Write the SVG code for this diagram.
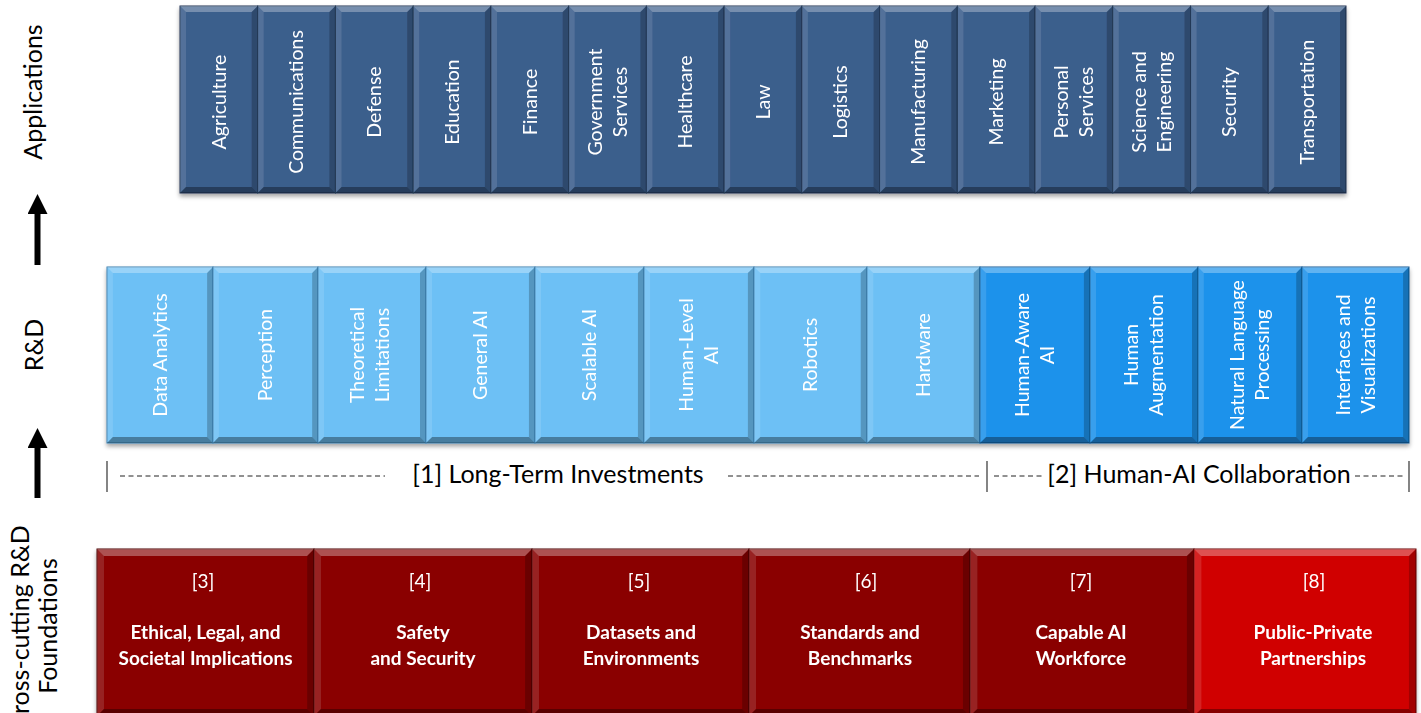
<svg xmlns="http://www.w3.org/2000/svg" width="1421" height="713" viewBox="0 0 1421 713">
<defs>
<style>
.bt{font-family:Lato,"Liberation Sans",sans-serif;font-size:19.5px;fill:#fff;text-anchor:middle}
.rb{font-family:Lato,"Liberation Sans",sans-serif;font-size:19px;fill:#fff;text-anchor:middle;font-weight:bold}
.rn{font-family:Lato,"Liberation Sans",sans-serif;font-size:19px;fill:#fff;text-anchor:middle}
.lab{font-family:Lato,"Liberation Sans",sans-serif;font-size:25px;fill:#000;text-anchor:middle}
.brk{font-family:Lato,"Liberation Sans",sans-serif;font-size:25px;fill:#000;text-anchor:middle}
.app{fill:#3B5E8C;stroke:#1f3553;stroke-width:1}
.rdl{fill:#6DC0F5;stroke:#3a7fae;stroke-width:1}
.rdd{fill:#1E92EB;stroke:#0f5a96;stroke-width:1}
.red{fill:#8A0606;stroke:#4a0000;stroke-width:1}
.redb{fill:#D00606;stroke:#6a0000;stroke-width:1}
.dash{stroke:#222;stroke-width:1;stroke-dasharray:5 3.5;fill:none}
.tick{stroke:#333;stroke-width:1.2;fill:none}
.hi{fill:#fff;fill-opacity:.3}
.hl{fill:#fff;fill-opacity:.12}
.sr{fill:#000;fill-opacity:.22}
.sb{fill:#000;fill-opacity:.35}
</style>
<filter id="sh" x="-5%" y="-10%" width="110%" height="125%">
<feDropShadow dx="0" dy="3" stdDeviation="2" flood-color="#000" flood-opacity=".35"/>
</filter>
<symbol id="bev-app" viewBox="0 0 77.7 187" preserveAspectRatio="none">
<polygon class="hi" points="0,0 77.7,0 71.7,6 6,6"/>
<polygon class="hl" points="0,0 6,6 6,181 0,187"/>
<polygon class="sr" points="77.7,0 77.7,187 71.7,181 71.7,6"/>
<polygon class="sb" points="0,187 77.7,187 71.7,181 6,181"/>
</symbol>
<symbol id="bev-rd" viewBox="0 0 108 176" preserveAspectRatio="none">
<polygon class="hi" points="0,0 108,0 102,6 6,6"/>
<polygon class="hl" points="0,0 6,6 6,170 0,176"/>
<polygon class="sr" points="108,0 108,176 102,170 102,6"/>
<polygon class="sb" points="0,176 108,176 102,170 6,170"/>
</symbol>
<symbol id="bev-red" viewBox="0 0 220 167" preserveAspectRatio="none">
<polygon class="hi" points="0,0 220,0 213,7 7,7"/>
<polygon class="hl" points="0,0 7,7 7,160 0,167"/>
<polygon class="sr" points="220,0 220,167 213,160 213,7"/>
<polygon class="sb" points="0,167 220,167 213,160 7,160"/>
</symbol>
<marker id="ah" viewBox="0 0 20 20" refX="10" refY="10" markerWidth="20" markerHeight="20" markerUnits="userSpaceOnUse" orient="auto">
<polygon points="0,0 20,10 0,20" fill="#000"/>
</marker>
</defs>
<rect width="1421" height="713" fill="#fff"/>

<!-- Left labels -->
<g id="label-applications"><text class="lab" transform="translate(42,92) rotate(-90)">Applications</text></g>
<g id="label-rd"><text class="lab" transform="translate(43,345) rotate(-90)">R&amp;D</text></g>
<g id="label-foundations">
<text class="lab" transform="translate(29,628) rotate(-90)">Cross-cutting R&amp;D</text>
<text class="lab" transform="translate(57,626) rotate(-90)">Foundations</text>
</g>

<!-- Applications row -->
<g id="applications" filter="url(#sh)">
<g id="app-agriculture"><rect class="app" x="180" y="6" width="77.7" height="187"/><use href="#bev-app" x="180" y="6" width="77.7" height="187"/><text class="bt" transform="translate(219,102) rotate(-90)" y="6.6">Agriculture</text></g>
<g id="app-communications"><rect class="app" x="257.7" y="6" width="77.7" height="187"/><use href="#bev-app" x="257.7" y="6" width="77.7" height="187"/><text class="bt" transform="translate(296.6,102) rotate(-90)" y="6.6">Communications</text></g>
<g id="app-defense"><rect class="app" x="335.5" y="6" width="77.7" height="187"/><use href="#bev-app" x="335.5" y="6" width="77.7" height="187"/><text class="bt" transform="translate(374.4,102) rotate(-90)" y="6.6">Defense</text></g>
<g id="app-education"><rect class="app" x="413.2" y="6" width="77.7" height="187"/><use href="#bev-app" x="413.2" y="6" width="77.7" height="187"/><text class="bt" transform="translate(452.1,102) rotate(-90)" y="6.6">Education</text></g>
<g id="app-finance"><rect class="app" x="491" y="6" width="77.7" height="187"/><use href="#bev-app" x="491" y="6" width="77.7" height="187"/><text class="bt" transform="translate(529.9,102) rotate(-90)" y="6.6">Finance</text></g>
<g id="app-government"><rect class="app" x="568.7" y="6" width="77.7" height="187"/><use href="#bev-app" x="568.7" y="6" width="77.7" height="187"/><text class="bt" transform="translate(607.6,102) rotate(-90)"><tspan x="0" y="-5.9">Government</tspan><tspan x="0" y="19.1">Services</tspan></text></g>
<g id="app-healthcare"><rect class="app" x="646.4" y="6" width="77.7" height="187"/><use href="#bev-app" x="646.4" y="6" width="77.7" height="187"/><text class="bt" transform="translate(685.3,102) rotate(-90)" y="6.6">Healthcare</text></g>
<g id="app-law"><rect class="app" x="724.2" y="6" width="77.7" height="187"/><use href="#bev-app" x="724.2" y="6" width="77.7" height="187"/><text class="bt" transform="translate(763.1,102) rotate(-90)" y="6.6">Law</text></g>
<g id="app-logistics"><rect class="app" x="801.9" y="6" width="77.7" height="187"/><use href="#bev-app" x="801.9" y="6" width="77.7" height="187"/><text class="bt" transform="translate(840.8,102) rotate(-90)" y="6.6">Logistics</text></g>
<g id="app-manufacturing"><rect class="app" x="879.6" y="6" width="77.7" height="187"/><use href="#bev-app" x="879.6" y="6" width="77.7" height="187"/><text class="bt" transform="translate(918.5,102) rotate(-90)" y="6.6">Manufacturing</text></g>
<g id="app-marketing"><rect class="app" x="957.4" y="6" width="77.7" height="187"/><use href="#bev-app" x="957.4" y="6" width="77.7" height="187"/><text class="bt" transform="translate(996.3,102) rotate(-90)" y="6.6">Marketing</text></g>
<g id="app-personal"><rect class="app" x="1035.1" y="6" width="77.7" height="187"/><use href="#bev-app" x="1035.1" y="6" width="77.7" height="187"/><text class="bt" transform="translate(1074,102) rotate(-90)"><tspan x="0" y="-5.9">Personal</tspan><tspan x="0" y="19.1">Services</tspan></text></g>
<g id="app-science"><rect class="app" x="1112.8" y="6" width="77.7" height="187"/><use href="#bev-app" x="1112.8" y="6" width="77.7" height="187"/><text class="bt" transform="translate(1151.7,102) rotate(-90)"><tspan x="0" y="-5.9">Science and</tspan><tspan x="0" y="19.1">Engineering</tspan></text></g>
<g id="app-security"><rect class="app" x="1190.6" y="6" width="77.7" height="187"/><use href="#bev-app" x="1190.6" y="6" width="77.7" height="187"/><text class="bt" transform="translate(1229.5,102) rotate(-90)" y="6.6">Security</text></g>
<g id="app-transportation"><rect class="app" x="1268.3" y="6" width="77.7" height="187"/><use href="#bev-app" x="1268.3" y="6" width="77.7" height="187"/><text class="bt" transform="translate(1307.2,102) rotate(-90)" y="6.6">Transportation</text></g>
</g>

<!-- R&D row -->
<g id="rd" filter="url(#sh)">
<g id="rd-data-analytics"><rect class="rdl" x="107" y="267" width="106" height="176"/><use href="#bev-rd" x="107" y="267" width="106" height="176"/><text class="bt" transform="translate(160,355) rotate(-90)" y="6.6">Data Analytics</text></g>
<g id="rd-perception"><rect class="rdl" x="213" y="267" width="105" height="176"/><use href="#bev-rd" x="213" y="267" width="105" height="176"/><text class="bt" transform="translate(265.5,355) rotate(-90)" y="6.6">Perception</text></g>
<g id="rd-theoretical"><rect class="rdl" x="318" y="267" width="108" height="176"/><use href="#bev-rd" x="318" y="267" width="108" height="176"/><text class="bt" transform="translate(370,355) rotate(-90)"><tspan x="0" y="-5.9">Theoretical</tspan><tspan x="0" y="19.1">Limitations</tspan></text></g>
<g id="rd-general-ai"><rect class="rdl" x="426" y="267" width="109" height="176"/><use href="#bev-rd" x="426" y="267" width="109" height="176"/><text class="bt" transform="translate(480.5,355) rotate(-90)" y="6.6">General AI</text></g>
<g id="rd-scalable-ai"><rect class="rdl" x="535" y="267" width="109" height="176"/><use href="#bev-rd" x="535" y="267" width="109" height="176"/><text class="bt" transform="translate(589.5,355) rotate(-90)" y="6.6">Scalable AI</text></g>
<g id="rd-human-level"><rect class="rdl" x="644" y="267" width="110" height="176"/><use href="#bev-rd" x="644" y="267" width="110" height="176"/><text class="bt" transform="translate(699,355) rotate(-90)"><tspan x="0" y="-5.9">Human-Level</tspan><tspan x="0" y="19.1">AI</tspan></text></g>
<g id="rd-robotics"><rect class="rdl" x="754" y="267" width="113" height="176"/><use href="#bev-rd" x="754" y="267" width="113" height="176"/><text class="bt" transform="translate(810.5,355) rotate(-90)" y="6.6">Robotics</text></g>
<g id="rd-hardware"><rect class="rdl" x="867" y="267" width="113" height="176"/><use href="#bev-rd" x="867" y="267" width="113" height="176"/><text class="bt" transform="translate(923.5,355) rotate(-90)" y="6.6">Hardware</text></g>
<g id="rd-human-aware"><rect class="rdd" x="980" y="267" width="110" height="176"/><use href="#bev-rd" x="980" y="267" width="110" height="176"/><text class="bt" transform="translate(1035,355) rotate(-90)"><tspan x="0" y="-5.9">Human-Aware</tspan><tspan x="0" y="19.1">AI</tspan></text></g>
<g id="rd-human-augmentation"><rect class="rdd" x="1090" y="267" width="108" height="176"/><use href="#bev-rd" x="1090" y="267" width="108" height="176"/><text class="bt" transform="translate(1144,355) rotate(-90)"><tspan x="0" y="-5.9">Human</tspan><tspan x="0" y="19.1">Augmentation</tspan></text></g>
<g id="rd-nlp"><rect class="rdd" x="1198" y="267" width="104" height="176"/><use href="#bev-rd" x="1198" y="267" width="104" height="176"/><text class="bt" transform="translate(1250,355) rotate(-90)"><tspan x="0" y="-5.9">Natural Language</tspan><tspan x="0" y="19.1">Processing</tspan></text></g>
<g id="rd-interfaces"><rect class="rdd" x="1302" y="267" width="107" height="176"/><use href="#bev-rd" x="1302" y="267" width="107" height="176"/><text class="bt" transform="translate(1355.5,355) rotate(-90)"><tspan x="0" y="-5.9">Interfaces and</tspan><tspan x="0" y="19.1">Visualizations</tspan></text></g>
</g>

<!-- Strategy brackets -->
<g id="strategy-brackets">
<line class="tick" x1="107" y1="461" x2="107" y2="492"/>
<line class="dash" x1="120" y1="476" x2="385" y2="476"/>
<text class="brk" x="558" y="483">[1] Long-Term Investments</text>
<line class="dash" x1="728" y1="476" x2="979" y2="476"/>
<line class="tick" x1="987" y1="461" x2="987" y2="492"/>
<line class="dash" x1="994" y1="476" x2="1045" y2="476"/>
<text class="brk" x="1199" y="483">[2] Human-AI Collaboration</text>
<line class="dash" x1="1355" y1="476" x2="1403" y2="476"/>
<line class="tick" x1="1409" y1="461" x2="1409" y2="492"/>
</g>

<!-- Foundations row -->
<g id="foundations" filter="url(#sh)">
<g id="f3"><rect class="red" x="97" y="549" width="217" height="167"/><use href="#bev-red" x="97" y="549" width="217" height="167"/><text class="rn" x="203" y="588">[3]</text><text class="rb" x="205.5" y="639">Ethical, Legal, and</text><text class="rb" x="205.5" y="665">Societal Implications</text></g>
<g id="f4"><rect class="red" x="314" y="549" width="218" height="167"/><use href="#bev-red" x="314" y="549" width="218" height="167"/><text class="rn" x="420" y="588">[4]</text><text class="rb" x="423" y="639">Safety</text><text class="rb" x="423" y="665">and Security</text></g>
<g id="f5"><rect class="red" x="532" y="549" width="217" height="167"/><use href="#bev-red" x="532" y="549" width="217" height="167"/><text class="rn" x="639" y="588">[5]</text><text class="rb" x="641" y="639">Datasets and</text><text class="rb" x="641" y="665">Environments</text></g>
<g id="f6"><rect class="red" x="749" y="549" width="221" height="167"/><use href="#bev-red" x="749" y="549" width="221" height="167"/><text class="rn" x="866" y="588">[6]</text><text class="rb" x="860" y="639">Standards and</text><text class="rb" x="860" y="665">Benchmarks</text></g>
<g id="f7"><rect class="red" x="970" y="549" width="224" height="167"/><use href="#bev-red" x="970" y="549" width="224" height="167"/><text class="rn" x="1081" y="588">[7]</text><text class="rb" x="1081" y="639">Capable AI</text><text class="rb" x="1081" y="665">Workforce</text></g>
<g id="f8"><rect class="redb" x="1194" y="549" width="222" height="167"/><use href="#bev-red" x="1194" y="549" width="222" height="167"/><text class="rn" x="1314" y="588">[8]</text><text class="rb" x="1313" y="639">Public-Private</text><text class="rb" x="1313" y="665">Partnerships</text></g>
</g>

<!-- Connectors -->
<g id="connectors" stroke="#000" stroke-width="6" fill="none">
<line x1="37.5" y1="265" x2="37.5" y2="204" marker-end="url(#ah)"/>
<line x1="37.5" y1="498" x2="37.5" y2="438" marker-end="url(#ah)"/>
</g>
</svg>
